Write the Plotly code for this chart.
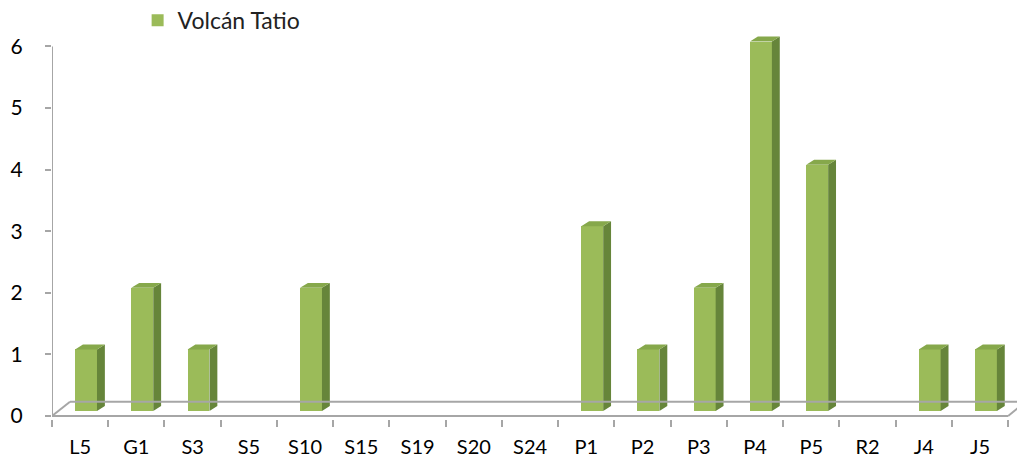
import plotly.graph_objects as go

# Data
categories = ['L5', 'G1', 'S3', 'S5', 'S10', 'S15', 'S19', 'S20', 'S24',
              'P1', 'P2', 'P3', 'P4', 'P5', 'R2', 'J4', 'J5']
values = [1, 2, 1, 0, 2, 0, 0, 0, 0, 3, 1, 2, 6, 4, 0, 1, 1]
y_ticks = [0, 1, 2, 3, 4, 5, 6]
series_name = 'Volcán Tatio'

# 3D look (in axis units)
BAR_OFF = -0.09   # front face starts this far from category centre
BAR_W = 0.39      # front face width
BASE = 0.08       # bars stand a little behind the front edge of the floor
DX = 0.14         # depth offset to the right
DZ = 0.08         # depth offset upwards
FLOOR_X = 0.32
FLOOR_Z = 0.23

FRONT = '#9bbb59'
SIDE = '#66853a'
TOP = '#86a84b'
GRID = '#a6a6a6'
FONT = 'Lato'

idx = list(range(len(categories)))

fig = go.Figure()

fig.add_trace(go.Bar(x=idx, y=values, base=BASE, offset=BAR_OFF, width=BAR_W,
                     marker=dict(color=FRONT, line=dict(width=0)),
                     name=series_name, showlegend=True))

# side and top faces of each bar
side_x, side_y, top_x, top_y = [], [], [], []
for i, v in zip(idx, values):
    if v == 0:
        continue
    xl = i + BAR_OFF
    xr = xl + BAR_W
    t = v + BASE
    side_x += [xr, xr + DX, xr + DX, xr, xr, None]
    side_y += [BASE, BASE + DZ, t + DZ, t, BASE, None]
    top_x += [xl, xr, xr + DX, xl + DX, xl, None]
    top_y += [t, t, t + DZ, t + DZ, t, None]

fig.add_trace(go.Scatter(x=side_x, y=side_y, mode='lines', fill='toself',
                         fillcolor=SIDE, line=dict(width=0, color=SIDE),
                         showlegend=False, hoverinfo='skip'))
fig.add_trace(go.Scatter(x=top_x, y=top_y, mode='lines', fill='toself',
                         fillcolor=TOP, line=dict(width=0, color=TOP),
                         showlegend=False, hoverinfo='skip'))

x_lo, x_hi = -0.5, len(categories) - 0.5

# floor and axis lines
line = dict(color=GRID, width=2)
fig.add_shape(type='line', x0=x_lo, x1=x_hi, y0=0, y1=0, line=line)
fig.add_shape(type='line', x0=x_lo, x1=x_lo + FLOOR_X, y0=0, y1=FLOOR_Z, line=line)
fig.add_shape(type='line', x0=x_hi, x1=x_hi + 0.27, y0=0, y1=FLOOR_Z - 0.03, line=line)
fig.add_shape(type='line', x0=x_lo + FLOOR_X, x1=x_hi + 0.4, y0=FLOOR_Z, y1=FLOOR_Z, line=line)
fig.add_shape(type='line', x0=x_lo, x1=x_lo, y0=0, y1=max(y_ticks), line=line)

# the page body adds an 8px offset, margins allow for it
fig.update_layout(
    width=1025, height=466,
    margin=dict(l=44, r=8, t=20, b=55, autoexpand=False),
    plot_bgcolor='white', paper_bgcolor='white',
    font=dict(family=FONT, size=20, color='#000000'),
    bargap=0,
    legend=dict(x=0.088, xanchor='left', y=1.02, yanchor='middle',
                font=dict(size=23, color='#222222'), bgcolor='rgba(0,0,0,0)'),
)
fig.update_xaxes(range=[x_lo, x_hi + 0.3], tickvals=idx, ticktext=categories,
                 ticks='', showgrid=False, zeroline=False, showline=False,
                 ticklabelstandoff=14, tickfont=dict(size=20),
                 minor=dict(tickvals=[i + 0.5 for i in [-1] + idx], ticks='outside',
                            ticklen=7, tickwidth=2, tickcolor=GRID, showgrid=False))
fig.update_yaxes(range=[-0.05, 6.3], tickvals=y_ticks, ticks='outside', ticklen=6,
                 tickwidth=2, tickcolor=GRID, showgrid=False, zeroline=False,
                 showline=False, ticklabelstandoff=18, tickfont=dict(size=21))

fig.write_html("out.html")
